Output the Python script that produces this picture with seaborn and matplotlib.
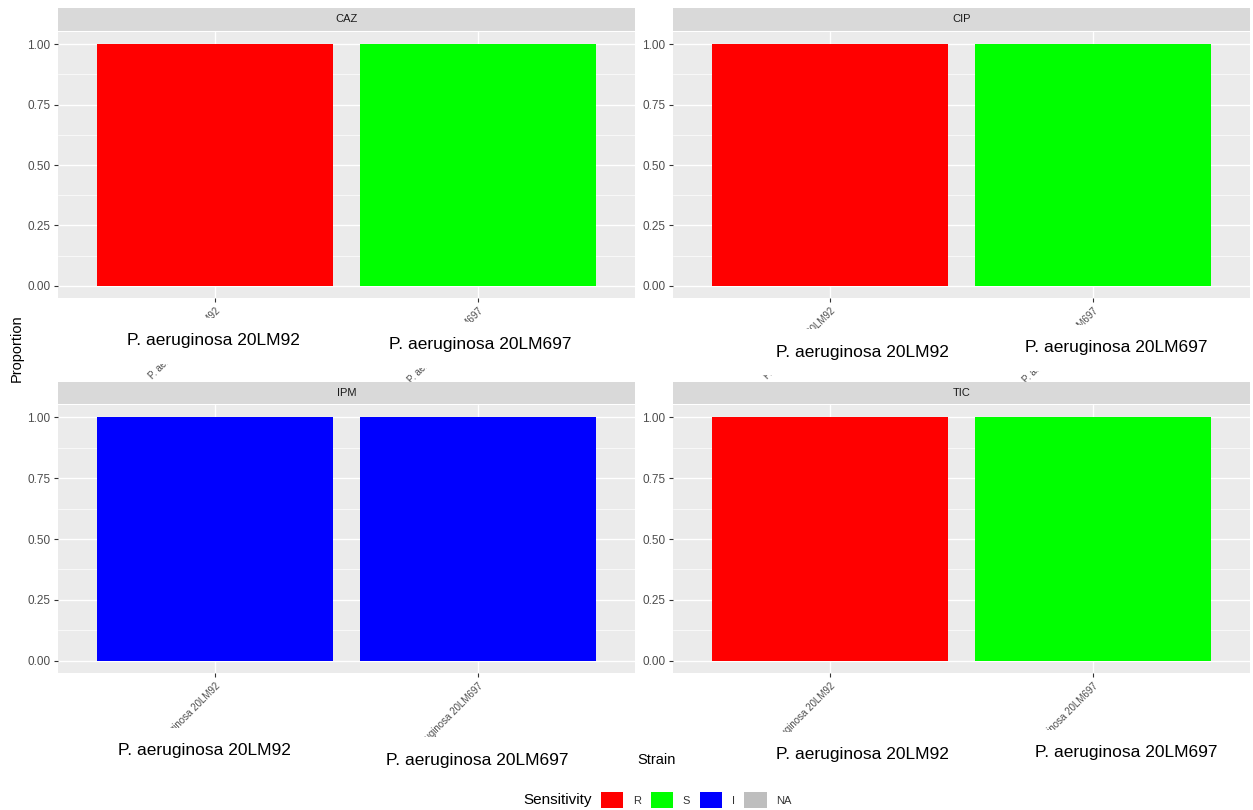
import matplotlib
matplotlib.use("Agg")
import matplotlib.pyplot as plt
from matplotlib.patches import Patch
import seaborn as sns
import pandas as pd

# ---- data -------------------------------------------------------------
strains = ["P. aeruginosa 20LM92", "P. aeruginosa 20LM697"]
antibiotics = ["CAZ", "CIP", "IPM", "TIC"]
sensitivity = {
    "CAZ": ["R", "S"],
    "CIP": ["R", "S"],
    "IPM": ["I", "I"],
    "TIC": ["R", "S"],
}
proportion = {
    "CAZ": [1.0, 1.0],
    "CIP": [1.0, 1.0],
    "IPM": [1.0, 1.0],
    "TIC": [1.0, 1.0],
}
legend_levels = ["R", "S", "I", "NA"]
palette = {"R": "#FF0000", "S": "#00FF00", "I": "#0000FF", "NA": "#BEBEBE"}
y_ticks = [0.0, 0.25, 0.5, 0.75, 1.0]
y_ticklabels = ["0.00", "0.25", "0.50", "0.75", "1.00"]

rows = []
for ab in antibiotics:
    for s, sens, p in zip(strains, sensitivity[ab], proportion[ab]):
        rows.append({"Antibiotic": ab, "Strain": s, "Sensitivity": sens, "Proportion": p})
df = pd.DataFrame(rows)

# ---- figure -----------------------------------------------------------
W, H = 1253, 810
sns.set_theme(style="white")
plt.rcParams["font.family"] = ["Liberation Sans", "DejaVu Sans"]
fig = plt.figure(figsize=(W / 100, H / 100), dpi=100)
fig.patch.set_facecolor("white")


def fx(px):
    return px / W


def fy(py):
    return 1 - py / H


# panel boxes in pixels: (left, right, strip_top, panel_top, panel_bottom)
panel_boxes = {
    "CAZ": (58, 635, 8, 32, 298),
    "CIP": (673, 1250, 8, 32, 298),
    "IPM": (58, 635, 382, 405, 673),
    "TIC": (673, 1250, 382, 405, 673),
}

tick_grey = "#4D4D4D"
for ab in antibiotics:
    l, r, st, pt, pb = panel_boxes[ab]
    ax = fig.add_axes([fx(l), fy(pb), fx(r - l), (pb - pt) / H])
    ax.set_facecolor("#EBEBEB")
    sub = df[df["Antibiotic"] == ab]
    sns.barplot(data=sub, x="Strain", y="Proportion", hue="Sensitivity",
                order=strains, palette=palette, dodge=False, width=0.9,
                saturation=1, linewidth=0, legend=False, ax=ax, zorder=3)
    ax.set_xlim(-0.6, 1.6)
    ax.set_ylim(-0.05, 1.05)
    ax.set_yticks(y_ticks)
    ax.set_yticklabels(y_ticklabels)
    ax.set_yticks([0.125, 0.375, 0.625, 0.875], minor=True)
    ax.grid(which="major", color="white", linewidth=1.0, zorder=1)
    ax.grid(which="minor", axis="y", color="white", linewidth=0.5, zorder=1)
    ax.set_axisbelow(True)
    for sp in ax.spines.values():
        sp.set_visible(False)
    ax.tick_params(axis="both", which="major", length=3, width=0.8,
                   color="#333333", labelcolor=tick_grey, labelsize=8.5, pad=2.5,
                   left=True, bottom=True)
    ax.tick_params(axis="both", which="minor", length=0)
    ax.set_xticks(range(len(strains)))
    ax.set_xticklabels(strains, rotation=45, ha="right", va="top",
                       rotation_mode="anchor", fontsize=7)
    ax.set_xlabel("")
    ax.set_ylabel("")

    # facet strip
    sax = fig.add_axes([fx(l), fy(pt - 1), fx(r - l), (pt - 1 - st) / H])
    sax.set_facecolor("#D9D9D9")
    sax.set_xticks([])
    sax.set_yticks([])
    for sp in sax.spines.values():
        sp.set_visible(False)
    sax.text(0.5, 0.5, ab, ha="center", va="center", fontsize=8,
             color="#1A1A1A", transform=sax.transAxes)

# large strain captions under each panel
caption_pos = {
    "CAZ": [(213, 341), (480, 345)],
    "CIP": [(862, 352), (1116, 348)],
    "IPM": [(204, 751), (477, 760)],
    "TIC": [(862, 755), (1126, 753)],
}
for ab in antibiotics:
    for s, (cx, cy) in zip(strains, caption_pos[ab]):
        fig.text(fx(cx), fy(cy), s, ha="center", va="center", fontsize=12.5,
                 color="black", zorder=10,
                 bbox=dict(boxstyle="square,pad=0.9", facecolor="white",
                           edgecolor="none"))

# axis titles
fig.text(fx(657), fy(760), "Strain", ha="center", va="center", fontsize=10.5,
         color="black")
fig.text(fx(17), fy(348), "Proportion", ha="center", va="center", fontsize=10.5,
         color="black", rotation=90)

# legend
handles = [Patch(facecolor=palette[k], edgecolor="none", label=k) for k in legend_levels]
fig.text(fx(592), fy(800), "Sensitivity", ha="right", va="center", fontsize=11,
         color="black")
fig.legend(handles=handles, loc="center left", bbox_to_anchor=(fx(601), fy(800)),
           ncol=4, frameon=False, fontsize=8, handlelength=2.0,
           handleheight=1.9, handletextpad=0.9, columnspacing=0.85,
           borderpad=0, borderaxespad=0, labelcolor="#333333")

fig.savefig("out.png", dpi=100, facecolor="white")
